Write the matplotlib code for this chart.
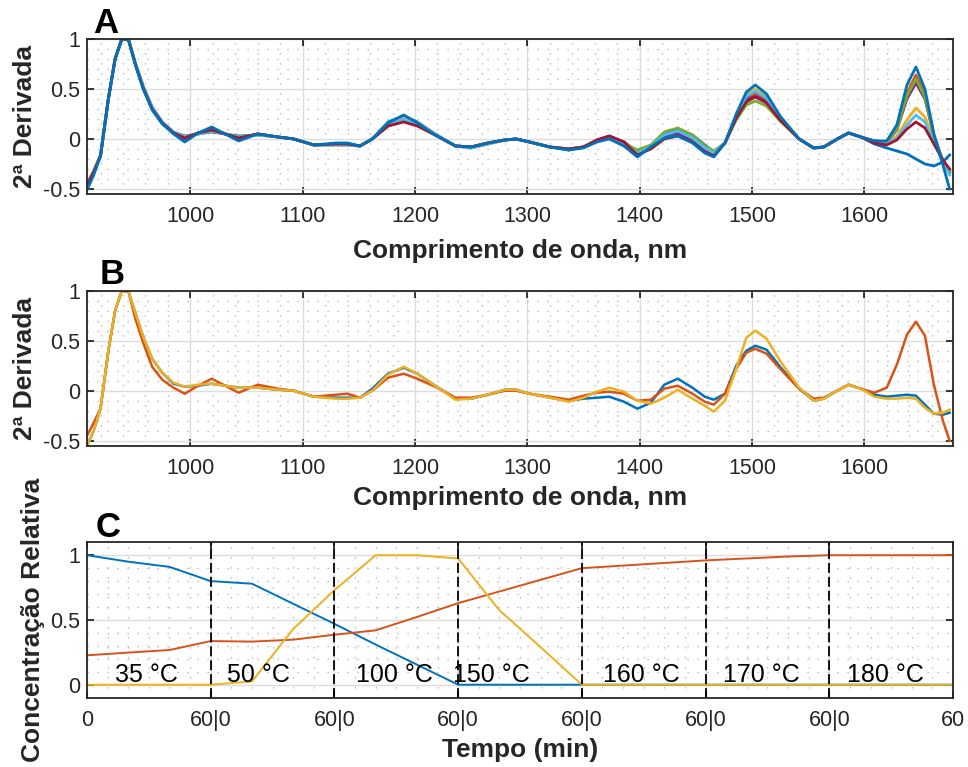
import numpy as np
import matplotlib
matplotlib.use('Agg')
from matplotlib import pyplot as plt
from matplotlib.ticker import MultipleLocator, FixedLocator

plt.rcParams['font.family'] = ['Liberation Sans', 'DejaVu Sans']

# wavelength grid (nm) shared by panels A and B
wavelengths = [908, 914, 920, 927, 933, 939, 945, 951, 958, 966,
               975, 985, 995, 1007, 1019, 1031, 1043, 1060, 1078, 1092,
               1110, 1130, 1140, 1151, 1162, 1176, 1190, 1202, 1218, 1236,
               1250, 1265, 1280, 1290, 1302, 1320, 1337, 1350, 1362, 1373,
               1386, 1398, 1410, 1422, 1434, 1447, 1458, 1466, 1476, 1486,
               1495, 1503, 1513, 1525, 1542, 1555, 1564, 1576, 1586, 1597,
               1609, 1620, 1629, 1638, 1646, 1654, 1662, 1670, 1676]

# panel A - 2nd derivative spectra
specA1 = [-0.47, -0.33, -0.17, 0.40, 0.80, 1.00, 0.99, 0.76, 0.53, 0.32,
          0.17, 0.07, 0.03, 0.05, 0.07, 0.05, 0.03, 0.04, 0.02, 0.00,
          -0.06, -0.06, -0.06, -0.07, 0.00, 0.17, 0.23, 0.17, 0.05, -0.07,
          -0.09, -0.05, -0.01, 0.00, -0.03, -0.08, -0.11, -0.08, -0.02, 0.02,
          -0.03, -0.13, -0.08, 0.06, 0.10, 0.04, -0.06, -0.13, -0.04, 0.22,
          0.42, 0.47, 0.40, 0.21, 0.00, -0.09, -0.08, 0.00, 0.06, 0.02,
          -0.05, -0.09, -0.12, -0.15, -0.20, -0.25, -0.27, -0.23, -0.16]
specA2 = [-0.45, -0.32, -0.16, 0.40, 0.80, 1.00, 0.99, 0.75, 0.51, 0.30,
          0.16, 0.06, 0.00, 0.06, 0.10, 0.05, 0.00, 0.05, 0.02, 0.00,
          -0.06, -0.05, -0.05, -0.07, 0.00, 0.14, 0.19, 0.14, 0.04, -0.07,
          -0.08, -0.04, -0.01, 0.00, -0.03, -0.08, -0.10, -0.08, -0.02, 0.02,
          -0.05, -0.15, -0.09, 0.02, 0.05, -0.02, -0.12, -0.16, -0.04, 0.22,
          0.41, 0.46, 0.39, 0.20, 0.00, -0.09, -0.08, 0.00, 0.06, 0.02,
          -0.02, -0.03, 0.11, 0.46, 0.64, 0.45, 0.04, -0.22, -0.31]
specA3 = [-0.44, -0.31, -0.16, 0.40, 0.80, 1.00, 0.99, 0.76, 0.52, 0.31,
          0.17, 0.07, 0.02, 0.05, 0.08, 0.05, 0.02, 0.04, 0.02, 0.00,
          -0.06, -0.06, -0.06, -0.07, 0.00, 0.16, 0.21, 0.16, 0.05, -0.07,
          -0.09, -0.05, -0.01, 0.00, -0.03, -0.08, -0.11, -0.08, -0.02, 0.01,
          -0.05, -0.14, -0.09, 0.03, 0.07, 0.00, -0.10, -0.15, -0.04, 0.24,
          0.45, 0.50, 0.42, 0.22, 0.00, -0.09, -0.08, 0.00, 0.06, 0.02,
          -0.03, -0.04, 0.03, 0.19, 0.31, 0.22, -0.02, -0.22, -0.35]
specA4 = [-0.46, -0.33, -0.17, 0.40, 0.80, 1.00, 0.99, 0.75, 0.51, 0.30,
          0.16, 0.06, 0.00, 0.06, 0.10, 0.05, 0.00, 0.05, 0.02, 0.00,
          -0.06, -0.05, -0.05, -0.07, 0.00, 0.13, 0.18, 0.14, 0.04, -0.07,
          -0.08, -0.04, -0.01, 0.00, -0.03, -0.08, -0.10, -0.08, -0.01, 0.03,
          -0.03, -0.14, -0.08, 0.03, 0.06, -0.01, -0.11, -0.15, -0.04, 0.21,
          0.39, 0.43, 0.37, 0.20, 0.00, -0.09, -0.08, 0.00, 0.06, 0.02,
          -0.02, -0.03, 0.09, 0.40, 0.56, 0.40, 0.03, -0.22, -0.33]
specA5 = [-0.46, -0.33, -0.17, 0.40, 0.80, 1.00, 0.99, 0.75, 0.51, 0.30,
          0.16, 0.06, 0.01, 0.06, 0.09, 0.05, 0.01, 0.05, 0.02, 0.00,
          -0.06, -0.05, -0.05, -0.07, 0.00, 0.14, 0.19, 0.14, 0.04, -0.07,
          -0.08, -0.04, -0.01, 0.00, -0.03, -0.08, -0.10, -0.08, -0.02, 0.01,
          -0.04, -0.11, -0.06, 0.07, 0.11, 0.04, -0.07, -0.12, -0.04, 0.19,
          0.34, 0.38, 0.33, 0.18, 0.00, -0.09, -0.08, 0.00, 0.06, 0.02,
          -0.02, -0.03, 0.10, 0.43, 0.60, 0.42, 0.03, -0.22, -0.32]
specA6 = [-0.45, -0.32, -0.16, 0.40, 0.80, 1.00, 0.99, 0.76, 0.52, 0.31,
          0.17, 0.07, 0.02, 0.05, 0.08, 0.05, 0.02, 0.04, 0.02, 0.00,
          -0.06, -0.06, -0.06, -0.07, 0.00, 0.15, 0.20, 0.15, 0.05, -0.07,
          -0.09, -0.05, -0.01, 0.00, -0.03, -0.08, -0.11, -0.08, -0.02, 0.01,
          -0.05, -0.14, -0.08, 0.04, 0.08, 0.01, -0.09, -0.14, -0.04, 0.23,
          0.43, 0.48, 0.41, 0.21, 0.00, -0.09, -0.08, 0.00, 0.06, 0.02,
          -0.03, -0.05, 0.01, 0.14, 0.24, 0.17, -0.04, -0.23, -0.36]
specA7 = [-0.46, -0.33, -0.17, 0.40, 0.80, 1.00, 0.99, 0.75, 0.51, 0.30,
          0.16, 0.06, 0.01, 0.06, 0.09, 0.05, 0.01, 0.05, 0.02, 0.00,
          -0.06, -0.05, -0.05, -0.07, 0.00, 0.13, 0.17, 0.13, 0.04, -0.07,
          -0.08, -0.04, -0.01, 0.00, -0.03, -0.08, -0.10, -0.08, -0.01, 0.03,
          -0.03, -0.16, -0.10, 0.00, 0.03, -0.03, -0.13, -0.17, -0.04, 0.21,
          0.37, 0.42, 0.36, 0.19, 0.00, -0.09, -0.08, 0.00, 0.06, 0.02,
          -0.04, -0.06, -0.01, 0.10, 0.17, 0.11, -0.05, -0.21, -0.30]
specA8 = [-0.51, -0.36, -0.17, 0.40, 0.80, 1.00, 0.99, 0.74, 0.50, 0.29,
          0.15, 0.05, -0.03, 0.06, 0.12, 0.05, -0.02, 0.05, 0.02, 0.00,
          -0.06, -0.04, -0.04, -0.07, 0.00, 0.16, 0.24, 0.16, 0.04, -0.07,
          -0.08, -0.04, -0.01, 0.00, -0.03, -0.08, -0.11, -0.09, -0.03, 0.00,
          -0.07, -0.18, -0.08, 0.01, 0.03, -0.04, -0.14, -0.18, -0.04, 0.25,
          0.47, 0.54, 0.45, 0.23, 0.00, -0.09, -0.08, 0.00, 0.06, 0.02,
          -0.02, -0.02, 0.14, 0.54, 0.72, 0.50, 0.05, -0.26, -0.50]

# panel B - resolved component spectra
specB1 = [-0.55, -0.40, -0.18, 0.40, 0.80, 1.00, 0.99, 0.78, 0.54, 0.32,
          0.18, 0.07, 0.04, 0.05, 0.07, 0.05, 0.03, 0.03, 0.01, 0.00,
          -0.06, -0.07, -0.07, -0.07, 0.02, 0.17, 0.23, 0.17, 0.05, -0.08,
          -0.08, -0.04, 0.01, 0.01, -0.03, -0.07, -0.10, -0.08, -0.07, -0.06,
          -0.11, -0.18, -0.12, 0.06, 0.12, 0.03, -0.06, -0.09, -0.03, 0.25,
          0.40, 0.45, 0.41, 0.24, 0.02, -0.10, -0.08, 0.00, 0.06, 0.02,
          -0.04, -0.06, -0.05, -0.04, -0.05, -0.14, -0.23, -0.24, -0.22]
specB2 = [-0.45, -0.32, -0.18, 0.40, 0.80, 1.00, 0.99, 0.72, 0.48, 0.24,
          0.11, 0.03, -0.03, 0.05, 0.12, 0.05, -0.02, 0.06, 0.02, 0.00,
          -0.06, -0.04, -0.03, -0.07, 0.00, 0.13, 0.17, 0.12, 0.04, -0.07,
          -0.07, -0.04, 0.00, 0.00, -0.03, -0.06, -0.09, -0.05, -0.02, -0.01,
          -0.03, -0.10, -0.09, 0.02, 0.05, -0.03, -0.11, -0.14, -0.03, 0.22,
          0.38, 0.42, 0.37, 0.22, 0.02, -0.08, -0.07, 0.00, 0.06, 0.02,
          -0.02, 0.03, 0.26, 0.56, 0.69, 0.55, 0.06, -0.30, -0.50]
specB3 = [-0.55, -0.40, -0.18, 0.40, 0.80, 1.00, 0.99, 0.78, 0.54, 0.32,
          0.18, 0.08, 0.04, 0.06, 0.07, 0.05, 0.03, 0.03, 0.01, 0.00,
          -0.06, -0.08, -0.08, -0.07, 0.00, 0.16, 0.24, 0.17, 0.05, -0.09,
          -0.08, -0.04, 0.01, 0.01, -0.03, -0.07, -0.11, -0.07, -0.01, 0.03,
          -0.01, -0.10, -0.13, -0.07, 0.01, -0.08, -0.15, -0.21, -0.10, 0.22,
          0.53, 0.60, 0.52, 0.30, 0.03, -0.10, -0.08, 0.00, 0.06, 0.02,
          -0.06, -0.08, -0.08, -0.07, -0.08, -0.17, -0.23, -0.22, -0.19]

# panel C - relative concentration profiles
timeMin = [0, 20, 40, 60, 80, 100, 120, 140, 160, 180, 200,
           220, 240, 260, 280, 300, 320, 340, 360, 380, 400, 420]
concBlue = [1.0, 0.95, 0.91, 0.80, 0.78, 0.625, 0.47, 0.31, 0.155, 0.0, 0.0,
            0.0, 0.0, 0.0, 0.0, 0.0, 0.0, 0.0, 0.0, 0.0, 0.0, 0.0]
concOrange = [0.227, 0.248, 0.268, 0.337, 0.333, 0.348, 0.386, 0.42, 0.523, 0.63, 0.72,
              0.81, 0.90, 0.92, 0.94, 0.96, 0.975, 0.99, 1.0, 1.0, 1.0, 1.0]
concYellow = [0.0, 0.0, 0.0, 0.0, 0.025, 0.43, 0.73, 1.0, 1.0, 0.975, 0.575,
              0.29, 0.0, 0.0, 0.0, 0.0, 0.0, 0.0, 0.0, 0.0, 0.0, 0.0]
segmentEdges = [60, 120, 180, 240, 300, 360]
tempLabels = ['35 °C', '50 °C', '100 °C', '150 °C', '160 °C', '170 °C', '180 °C']
tempLabelX = [29, 83, 149, 196, 269, 327, 387]
timeTicks = [0, 60, 120, 180, 240, 300, 360, 420]
timeTickLabels = ['0', '60|0', '60|0', '60|0', '60|0', '60|0', '60|0', '60']

matlabColors = ['#0072BD', '#D95319', '#EDB120', '#7E2F8E',
                '#77AC30', '#4DBEEE', '#A2142F']
textColor = '#262626'


def styleAxes(ax, xMinor, yMinor):
    ax.xaxis.set_minor_locator(MultipleLocator(xMinor))
    ax.yaxis.set_minor_locator(MultipleLocator(yMinor))
    ax.grid(which='major', color='#dcdcdc', lw=1.0, ls='-')
    ax.grid(which='minor', color='#acacac', lw=0.9, ls=(0, (1, 7)))
    ax.set_axisbelow(True)
    ax.tick_params(which='major', direction='in', top=True, right=True,
                   length=5, width=1.3, colors=textColor, labelsize=15.5)
    ax.tick_params(axis='x', which='major', pad=9)
    ax.tick_params(axis='y', which='major', pad=5)
    ax.tick_params(which='minor', length=0, top=True, right=True)
    for spine in ax.spines.values():
        spine.set_linewidth(1.3)
        spine.set_color(textColor)


def spectrumAxes(ax, series, lw):
    for i in range(len(series)):
        ax.plot(wavelengths, series[i], color=matlabColors[i % 7], lw=lw)
    ax.set_xlim(908, 1679)
    ax.set_ylim(-0.55, 1.0)
    ax.set_xticks([1000, 1100, 1200, 1300, 1400, 1500, 1600])
    ax.set_yticks([-0.5, 0, 0.5, 1])
    ax.set_yticklabels(['-0.5', '0', '0.5', '1'])
    styleAxes(ax, 20, 0.1)
    ax.set_xlabel('Comprimento de onda, nm', fontsize=19, fontweight='bold',
                  color=textColor, va='baseline')
    ax.set_ylabel('2ª Derivada', fontsize=19, fontweight='bold',
                  color=textColor, va='center')
    ax.yaxis.set_label_coords(-0.072, 0.5)


fig = plt.figure(figsize=(9.68, 7.67), dpi=100)
axA = fig.add_axes([0.0899, 0.7471, 0.8946, 0.2021])
axB = fig.add_axes([0.0899, 0.4189, 0.8946, 0.2021])
axC = fig.add_axes([0.0899, 0.0904, 0.8946, 0.2026])

spectrumAxes(axA, [specA1, specA2, specA3, specA4, specA5, specA6, specA7, specA8], 2.0)
axA.xaxis.set_label_coords(0.5, -0.41)
spectrumAxes(axB, [specB1, specB2, specB3], 1.8)
axB.xaxis.set_label_coords(0.5, -0.38)

axC.plot(timeMin, concBlue, color=matlabColors[0], lw=1.4)
axC.plot(timeMin, concOrange, color=matlabColors[1], lw=1.4)
axC.plot(timeMin, concYellow, color=matlabColors[2], lw=1.4)
for edge in segmentEdges:
    axC.axvline(edge, color='black', lw=1.3, ls=(0, (5.5, 2.2)))
for label, xPos in zip(tempLabels, tempLabelX):
    axC.text(xPos, 0.02, label, fontsize=18, color='black', ha='center', va='baseline')
axC.set_xlim(0, 420)
axC.set_ylim(-0.1, 1.1)
axC.xaxis.set_major_locator(FixedLocator(timeTicks))
axC.set_xticklabels(timeTickLabels)
axC.set_yticks([0, 0.5, 1])
axC.set_yticklabels(['0', '0.5', '1'])
styleAxes(axC, 10, 0.1)
axC.set_xlabel('Tempo (min)', fontsize=19, fontweight='bold', color=textColor, va='baseline')
axC.xaxis.set_label_coords(0.5, -0.38)
axC.set_ylabel('Concentração Relativa', fontsize=19, fontweight='bold',
               color=textColor, va='center')
axC.yaxis.set_label_coords(-0.062, 0.5)

# panel letters
fig.text(93 / 968, 1 - 33 / 767, 'A', fontsize=25, fontweight='bold', va='baseline')
fig.text(100 / 968, 1 - 284 / 767, 'B', fontsize=25, fontweight='bold', va='baseline')
fig.text(96 / 968, 1 - 537 / 767, 'C', fontsize=25, fontweight='bold', va='baseline')

fig.savefig('out.png', dpi=100)
